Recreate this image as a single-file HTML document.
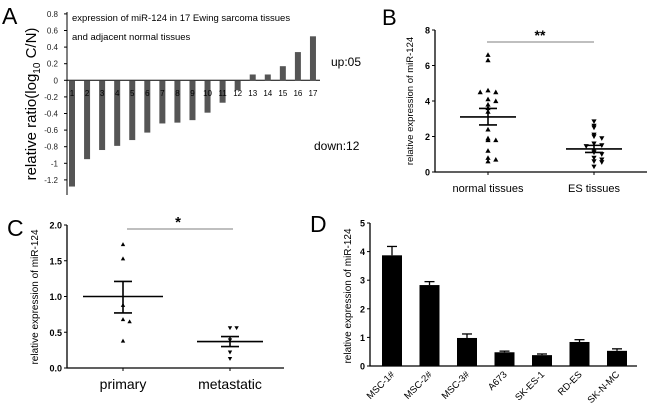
<!DOCTYPE html>
<html><head><meta charset="utf-8"><style>
body{margin:0;background:#fff}
svg{display:block;font-family:"Liberation Sans",Arial,sans-serif}
</style></head><body>
<svg id="fig" width="650" height="408" viewBox="0 0 650 408">
<g id="pA"></g>
<g id="pB"></g>
<g id="pC"></g>
<g id="pD"></g>
</svg>
<script>
// Panel A data
const aCats = ["1","2","3","4","5","6","7","8","9","10","11","12","13","14","15","16","17"];
const aVals = [-1.28,-0.95,-0.84,-0.79,-0.72,-0.63,-0.52,-0.51,-0.48,-0.39,-0.27,-0.12,0.07,0.07,0.17,0.34,0.53];
const aTicks = ["0.8","0.6","0.4","0.2","0","-0.2","-0.4","-0.6","-0.8","-1","-1.2"];
const aTickVals = [0.8,0.6,0.4,0.2,0,-0.2,-0.4,-0.6,-0.8,-1,-1.2];
// Panel B data
const bCats = ["normal tissues","ES tissues"];
const bNormal = [6.6,6.3,4.6,4.5,4.5,4.1,4.0,3.8,3.6,3.4,2.4,1.9,1.8,1.8,1.2,0.8,0.6,0.7];
const bES = [2.85,2.6,2.5,2.1,2.0,1.9,1.6,1.5,1.45,1.2,1.1,1.0,0.8,0.7,0.6,0.55,0.3];
const bMeans = [3.1,1.3];
const bSemLo = [2.65,1.1];
const bSemHi = [3.58,1.5];
const bTicks = [0,2,4,6,8];
// Panel C data
const cCats = ["primary","metastatic"];
const cPrimary = [1.73,1.53,0.88,0.68,0.65,0.38];
const cMet = [0.56,0.56,0.39,0.22,0.13];
const cMeans = [1.0,0.37];
const cSemLo = [0.77,0.30];
const cSemHi = [1.21,0.44];
const cTicks = ["0.0","0.5","1.0","1.5","2.0"];
const cTickVals = [0,0.5,1,1.5,2];
// Panel D data
const dCats = ["MSC-1#","MSC-2#","MSC-3#","A673","SK-ES-1","RD-ES","SK-N-MC"];
const dVals = [3.87,2.83,0.98,0.48,0.38,0.84,0.53];
const dErr = [0.31,0.12,0.14,0.04,0.04,0.08,0.07];
const dTicks = [0,1,2,3,4,5];

const NS="http://www.w3.org/2000/svg";
function mk(parent,tag,attrs,text){const e=document.createElementNS(NS,tag);for(const k in attrs)e.setAttribute(k,attrs[k]);if(text!==undefined)e.textContent=text;parent.appendChild(e);return e;}

// ---------- A ----------
(function(){
const g=document.getElementById('pA');
const y=v=>80.3-v*83, x=i=>72+i*15.06;
let t=mk(g,'text',{x:2,y:24,'font-size':23});t.textContent='A';


let ax=mk(g,'line',{x1:67,y1:12,x2:67,y2:195,stroke:'#000','stroke-width':1});


aTickVals.forEach((v,i)=>{
 mk(g,'line',{x1:64,y1:y(v),x2:67,y2:y(v),stroke:'#000'});
 const l=mk(g,'text',{x:58,y:y(v)+3,'font-size':8,'text-anchor':'end',fill:'#222'},aTicks[i]);
 
 
});
let zl=mk(g,'line',{x1:67,y1:y(0),x2:320,y2:y(0),stroke:'#000'});


aVals.forEach((v,i)=>{
 const r=mk(g,'rect',{x:x(i)-3,y:Math.min(y(v),y(0)),width:6,height:Math.abs(y(v)-y(0)),fill:'#555'});
 
 
 const l=mk(g,'text',{x:x(i),y:96,'font-size':8,'text-anchor':'middle'},aCats[i]);
 
 
});
let tt=mk(g,'text',{x:72,y:21,'font-size':9.5},'expression of miR-124 in 17  Ewing sarcoma tissues');


let tt2=mk(g,'text',{x:72,y:40,'font-size':9.5},'and adjacent normal tissues');


let yl=mk(g,'text',{transform:'translate(36,104) rotate(-90)','font-size':15,'text-anchor':'middle'});
yl.innerHTML='relative ratio(log<tspan font-size="10" dy="4">10</tspan><tspan dy="-4"> C/N)</tspan>';


let up=mk(g,'text',{x:331,y:66,'font-size':12},'up:05');


let dn=mk(g,'text',{x:314,y:150,'font-size':12},'down:12');


})();

// scatter helper
function scatter(g,vals,cx,y,up,size,name){
 const counts={};
 vals.forEach((v,i)=>{
  const k=Math.round(y(v)/ (size*1.6));
  counts[k]=(counts[k]||0)+1;
  const n=counts[k]-1;
  const off=(n%2?1:-1)*Math.ceil(n/2)*size*3;
  const px=cx+off, py=y(v), s=size;
  const pts= up ? `${px},${py-s} ${px-s},${py+s*0.8} ${px+s},${py+s*0.8}` : `${px},${py+s} ${px-s},${py-s*0.8} ${px+s},${py-s*0.8}`;
  const p=mk(g,'polygon',{points:pts,fill:'#000'});
  
  
 });
}
function meanSem(g,cx,hw,y,m,lo,hi,name){
 const e=mk(g,'g',{stroke:'#000','stroke-width':1.6});
 
 
 mk(e,'line',{x1:cx-hw,y1:y(m),x2:cx+hw,y2:y(m)});
 mk(e,'line',{x1:cx,y1:y(lo),x2:cx,y2:y(hi)});
 mk(e,'line',{x1:cx-9,y1:y(lo),x2:cx+9,y2:y(lo)});
 mk(e,'line',{x1:cx-9,y1:y(hi),x2:cx+9,y2:y(hi)});
}

// ---------- B ----------
(function(){
const g=document.getElementById('pB');
const y=v=>172-v*17.75, cx=[488,594];
let t=mk(g,'text',{x:382,y:25,'font-size':22},'B');


let a=mk(g,'path',{d:'M435,30 V172 H647',fill:'none',stroke:'#000','stroke-width':1.3});


bTicks.forEach(v=>{
 mk(g,'line',{x1:432,y1:y(v),x2:435,y2:y(v),stroke:'#000'});
 const l=mk(g,'text',{x:430,y:y(v)+3.5,'font-size':9,'font-weight':'bold','text-anchor':'end'},String(v));
 
 
});
bCats.forEach((c,i)=>{
 mk(g,'line',{x1:cx[i],y1:172,x2:cx[i],y2:175,stroke:'#000'});
 const l=mk(g,'text',{x:cx[i],y:192,'font-size':11,'text-anchor':'middle'},c);
 
 
});
let yl=mk(g,'text',{transform:'translate(413,101) rotate(-90)','font-size':9.5,'text-anchor':'middle'},'relative expression of miR-124');


scatter(g,bNormal,cx[0],y,true,2.6,'normal-point');
scatter(g,bES,cx[1],y,false,2.6,'es-point');
meanSem(g,cx[0],28,y,bMeans[0],bSemLo[0],bSemHi[0],'normal-mean-sem');
meanSem(g,cx[1],28,y,bMeans[1],bSemLo[1],bSemHi[1],'es-mean-sem');
let s=mk(g,'line',{x1:487,y1:42,x2:594,y2:42,stroke:'#999','stroke-width':1.3});


let st=mk(g,'text',{x:540,y:40,'font-size':14,'font-weight':'bold','text-anchor':'middle'},'**');


})();

// ---------- C ----------
(function(){
const g=document.getElementById('pC');
const y=v=>368-v*71.5, cx=[123,230];
let t=mk(g,'text',{x:7,y:236,'font-size':23},'C');


let a=mk(g,'path',{d:'M67,225 V368 H284',fill:'none',stroke:'#000','stroke-width':1.3});


cTickVals.forEach((v,i)=>{
 mk(g,'line',{x1:64,y1:y(v),x2:67,y2:y(v),stroke:'#000'});
 const l=mk(g,'text',{x:62,y:y(v)+3.5,'font-size':9,'font-weight':'bold','text-anchor':'end'},cTicks[i]);
 
 
});
cCats.forEach((c,i)=>{
 mk(g,'line',{x1:cx[i],y1:368,x2:cx[i],y2:371,stroke:'#000'});
 const l=mk(g,'text',{x:cx[i],y:389,'font-size':14,'text-anchor':'middle'},c);
 
 
});
let yl=mk(g,'text',{transform:'translate(38,297) rotate(-90)','font-size':10,'text-anchor':'middle'},'relative expression of miR-124');


scatter(g,cPrimary,cx[0],y,true,2.2,'primary-point');
scatter(g,cMet,cx[1],y,false,2.2,'metastatic-point');
meanSem(g,cx[0],40,y,cMeans[0],cSemLo[0],cSemHi[0],'primary-mean-sem');
meanSem(g,cx[1],33,y,cMeans[1],cSemLo[1],cSemHi[1],'metastatic-mean-sem');
let s=mk(g,'line',{x1:127,y1:229,x2:233,y2:229,stroke:'#999','stroke-width':1.3});


let st=mk(g,'text',{x:178,y:227,'font-size':15,'font-weight':'bold','text-anchor':'middle'},'*');


})();

// ---------- D ----------
(function(){
const g=document.getElementById('pD');
const y=v=>366-v*28.6, x=i=>392+i*37.5;
let t=mk(g,'text',{x:310,y:232,'font-size':23},'D');


dVals.forEach((v,i)=>{
 const e=mk(g,'g',{stroke:'#000','stroke-width':1.3});
 
 
 mk(e,'line',{x1:x(i),y1:y(v),x2:x(i),y2:y(v+dErr[i])});
 mk(e,'line',{x1:x(i)-5,y1:y(v+dErr[i]),x2:x(i)+5,y2:y(v+dErr[i])});
 const r=mk(g,'rect',{x:x(i)-10,y:y(v),width:20,height:y(0)-y(v),fill:'#000'});
 
 
 const l=mk(g,'text',{transform:`translate(${x(i)+3},${375}) rotate(-45)`,'font-size':9.5,'text-anchor':'end'},dCats[i]);
 
 
});
let a=mk(g,'path',{d:'M370,223 V366 H637',fill:'none',stroke:'#000','stroke-width':1.3});


dTicks.forEach(v=>{
 mk(g,'line',{x1:367,y1:y(v),x2:370,y2:y(v),stroke:'#000'});
 const l=mk(g,'text',{x:365,y:y(v)+3.5,'font-size':9,'font-weight':'bold','text-anchor':'end'},String(v));
 
 
});
let yl=mk(g,'text',{transform:'translate(351,296) rotate(-90)','font-size':10,'text-anchor':'middle'},'relative expression of miR-124');


})();
</script>
</body></html>
